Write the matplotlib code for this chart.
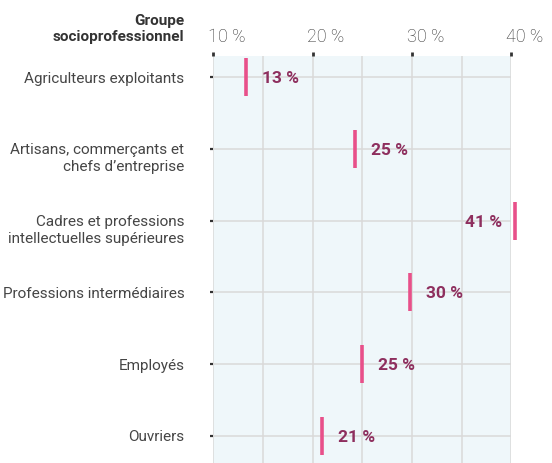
import matplotlib
matplotlib.use("Agg")
import matplotlib.pyplot as plt
import matplotlib.transforms as mtransforms
import numpy as np

# ============================================================
# DATA
# ============================================================

groups = [
    "Agriculteurs exploitants",
    "Artisans, commerçants et\nchefs d’entreprise",
    "Cadres et professions\nintellectuelles supérieures",
    "Professions intermédiaires",
    "Employés",
    "Ouvriers",
]
values = [13.3, 24.3, 40.4, 29.8, 25.0, 20.9]
value_labels = ["13 %", "25 %", "41 %", "30 %", "25 %", "21 %"]

tick_values = [10, 20, 30, 40]
tick_labels = ["10 %", "20 %", "30 %", "40 %"]
header = "Groupe\nsocioprofessionnel"

# ============================================================
# STYLE
# ============================================================

fam = ["Roboto", "DejaVu Sans"]
bg = "#EFF7FA"
grid_col = "#D9D9D9"
marker_col = "#E8508A"
label_col = "#8E2F5E"
text_col = "#454545"

W, H = 552, 463
fig = plt.figure(figsize=(W / 100, H / 100), dpi=100)
ax = fig.add_axes([213.3 / W, 0, (511.2 - 213.3) / W, 1 - 56 / H])

rows = np.arange(len(groups))
ax.set_facecolor(bg)
ax.set_xlim(10, 40)
ax.set_ylim(5.381, -0.297)
for s in ax.spines.values():
    s.set_visible(False)

ax.set_xticks(tick_values)
ax.set_xticks([15, 25, 35], minor=True)
ax.xaxis.set_ticks_position("top")
ax.tick_params(axis="x", which="major", length=3, width=2, color="#333333",
               labeltop=False, labelbottom=False)
ax.tick_params(axis="x", which="minor", length=0, top=False, bottom=False)
ax.set_yticks(rows)
ax.tick_params(axis="y", length=2.5, width=1.6, color="#333333",
               labelleft=False)
ax.grid(True, which="both", axis="x", color=grid_col, lw=1.1)
ax.grid(True, axis="y", color=grid_col, lw=1.1)
ax.set_axisbelow(True)

# markers (the 41 % one pokes out past the 40 % line)
ax.vlines(values, rows - 0.265, rows + 0.265, colors=marker_col, lw=2.6,
          zorder=3, clip_on=False)

px = lambda dx, dy: mtransforms.ScaledTranslation(dx / 100, dy / 100, fig.dpi_scale_trans)

for v, r, lab in zip(values, rows, value_labels):
    if v > 37:
        t = ax.transData + px(-13, 0)
        ha = "right"
    else:
        t = ax.transData + px(16, 0)
        ha = "left"
    ax.text(v, r, lab, transform=t, ha=ha, va="center_baseline",
            fontsize=12.5, fontweight="bold", color=label_col, family=fam)

# category labels, one line at a time
ylab = mtransforms.blended_transform_factory(ax.transAxes, ax.transData)
for r, g in zip(rows, groups):
    for k, line in enumerate(g.split("\n")):
        ax.text(0, r, line, transform=ylab + px(-29, -17 * k), ha="right",
                va="center_baseline", fontsize=11, color=text_col, family=fam)

# top tick labels
xlab = mtransforms.blended_transform_factory(ax.transData, ax.transAxes)
for v, lab in zip(tick_values, tick_labels):
    ax.text(v, 1, lab, transform=xlab + px(13.5, 14), ha="center", va="baseline",
            fontsize=13, color="#333333", family=fam, fontweight="light")

# header
for k, line in enumerate(header.split("\n")):
    ax.text(0, 1, line, transform=ax.transAxes + px(-29, 31 - 16 * k), ha="right",
            va="baseline", fontsize=11, fontweight="bold", color="#333333",
            family=fam)

fig.savefig("out.png", dpi=100)
